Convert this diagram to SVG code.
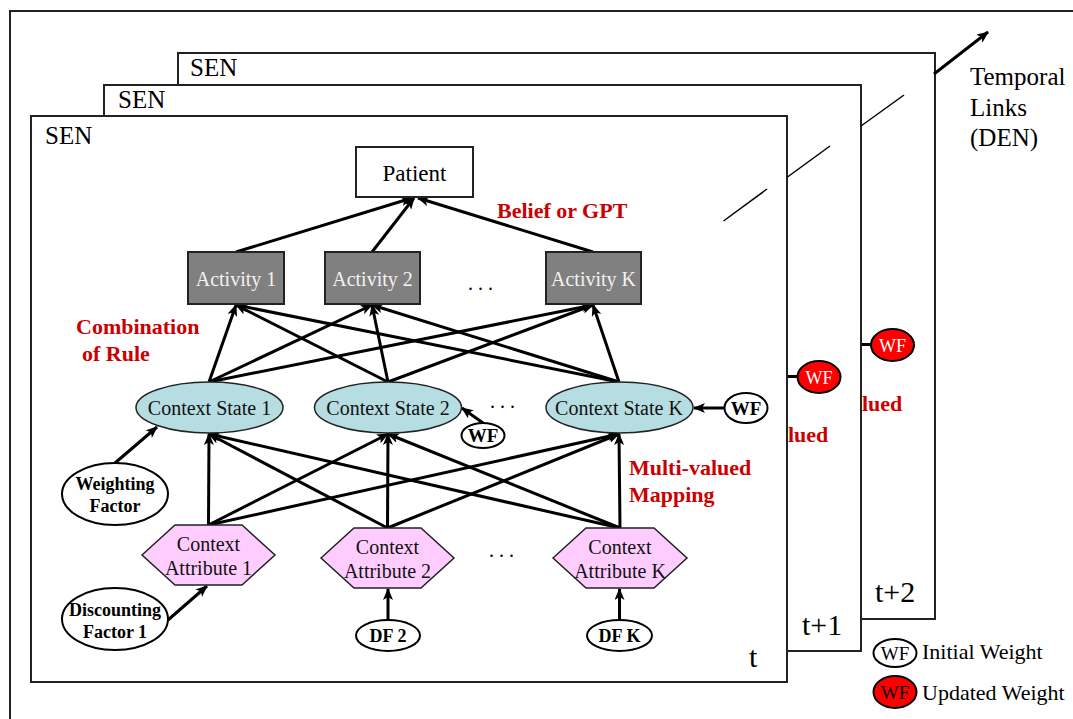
<svg xmlns="http://www.w3.org/2000/svg" width="1073" height="719" viewBox="0 0 1073 719">
<defs>
<marker id="arr" viewBox="0 0 12 10" refX="11" refY="5" markerWidth="12" markerHeight="10" markerUnits="userSpaceOnUse" orient="auto"><path d="M0,0 L12,5 L0,10 L3,5 Z" fill="#000"/></marker>
<style>
.frame{fill:#fff;stroke:#222;stroke-width:2}
text{font-family:"Liberation Serif","Times New Roman",serif;fill:#000}
.big{font-size:25px}
.tl{font-size:30px}
.red{font-size:22px;font-weight:bold;fill:#cc0000}
.edge{stroke:#000;stroke-width:3;fill:none;marker-end:url(#arr)}
.thin{stroke:#000;stroke-width:1.5}
.act rect{fill:#808080;stroke:#222;stroke-width:2}
.act text{fill:#f2f2f2;font-size:20px;text-anchor:middle}
.cs ellipse{fill:#b6dde1;stroke:#222;stroke-width:1.5}
.cs text{font-size:20px;text-anchor:middle;fill:#111}
.attr polygon{fill:#ffccff;stroke:#222;stroke-width:1.5}
.attr text{font-size:20px;text-anchor:middle;fill:#111}
.wn ellipse{fill:#fff;stroke:#000;stroke-width:2}
.wn text{font-size:18px;font-weight:bold;text-anchor:middle}
.wf text{font-size:19px}
.rwf ellipse{fill:#ff0000;stroke:#000;stroke-width:2}
.rwf text{fill:#fff;font-size:18px;text-anchor:middle}
.dots{font-size:20px;fill:#000}
</style>
</defs>
<rect x="10" y="11" width="1100" height="800" fill="none" stroke="#222" stroke-width="2"/>

<g id="frame-t2">
<rect class="frame" x="178" y="53" width="757" height="566"/>
<text class="big" x="190" y="76">SEN</text>
<text class="tl" x="875" y="602">t+2</text>
<line x1="861" y1="344.5" x2="872" y2="344.5" stroke="#000" stroke-width="3"/>
<g class="rwf"><ellipse cx="892.5" cy="345" rx="21.5" ry="16"/><text x="892.5" y="352">WF</text></g>
<text class="red" x="862" y="411">lued</text>
</g>

<g id="frame-t1">
<rect class="frame" x="104" y="85" width="757" height="566"/>
<text class="big" x="118" y="108">SEN</text>
<text class="tl" x="802" y="635">t+1</text>
<line x1="787" y1="376.5" x2="798" y2="376.5" stroke="#000" stroke-width="3"/>
<g class="rwf"><ellipse cx="819" cy="377" rx="21.5" ry="16"/><text x="819" y="384">WF</text></g>
<text class="red" x="788" y="442">lued</text>
</g>

<g id="frame-t">
<rect class="frame" x="31" y="116" width="756" height="566"/>
<text class="big" x="45" y="144">SEN</text>
<text class="tl" x="749" y="667">t</text>
</g>

<g id="temporal-links">
<line class="thin" x1="723.5" y1="221" x2="767" y2="189"/>
<line class="thin" x1="787.5" y1="177" x2="830" y2="146"/>
<line class="thin" x1="861" y1="126" x2="904" y2="95"/>
<line class="edge" x1="934" y1="74" x2="988" y2="32"/>
<text class="big" x="970" y="85">Temporal</text>
<text class="big" x="970" y="116">Links</text>
<text class="big" x="970" y="146">(DEN)</text>
</g>

<g id="connectors">
<line class="edge" x1="236" y1="252" x2="412" y2="198"/>
<line class="edge" x1="372" y1="252" x2="414" y2="198"/>
<line class="edge" x1="593" y1="252" x2="418" y2="198"/>

<line class="edge" x1="209" y1="382" x2="236" y2="305"/>
<line class="edge" x1="209" y1="382" x2="372" y2="305"/>
<line class="edge" x1="209" y1="382" x2="593" y2="305"/>
<line class="edge" x1="388" y1="382" x2="236" y2="305"/>
<line class="edge" x1="388" y1="382" x2="372" y2="305"/>
<line class="edge" x1="388" y1="382" x2="593" y2="305"/>
<line class="edge" x1="619" y1="382" x2="236" y2="305"/>
<line class="edge" x1="619" y1="382" x2="372" y2="305"/>
<line class="edge" x1="619" y1="382" x2="593" y2="305"/>

<line class="edge" x1="208.5" y1="525" x2="209" y2="434"/>
<line class="edge" x1="208.5" y1="525" x2="388" y2="434"/>
<line class="edge" x1="208.5" y1="525" x2="619" y2="434"/>
<line class="edge" x1="387.5" y1="528" x2="209" y2="434"/>
<line class="edge" x1="387.5" y1="528" x2="388" y2="434"/>
<line class="edge" x1="387.5" y1="528" x2="619" y2="434"/>
<line class="edge" x1="620" y1="528" x2="209" y2="434"/>
<line class="edge" x1="620" y1="528" x2="388" y2="434"/>
<line class="edge" x1="620" y1="528" x2="619" y2="434"/>

<line class="edge" x1="115" y1="463" x2="157" y2="427"/>
<line class="edge" x1="483" y1="423" x2="462" y2="408"/>
<line class="edge" x1="725" y1="408" x2="694" y2="408"/>
<line class="edge" x1="168" y1="620" x2="207" y2="586"/>
<line class="edge" x1="388" y1="620" x2="388" y2="589"/>
<line class="edge" x1="619.5" y1="620" x2="619.5" y2="589"/>
</g>

<g id="patient">
<rect x="356" y="147" width="117" height="50" fill="#fff" stroke="#222" stroke-width="2"/>
<text x="414.5" y="181" font-size="23" text-anchor="middle">Patient</text>
</g>
<text class="red" x="497" y="218">Belief or GPT</text>

<g id="activity-1" class="act"><rect x="188" y="252" width="96" height="52"/><text x="236" y="286">Activity 1</text></g>
<g id="activity-2" class="act"><rect x="325" y="252" width="95" height="52"/><text x="372.5" y="286">Activity 2</text></g>
<g id="activity-k" class="act"><rect x="546" y="252" width="95" height="52"/><text x="593.5" y="286">Activity K</text></g>
<text class="dots" x="468" y="290">. . .</text>

<text class="red" x="76" y="334">Combination</text>
<text class="red" x="82" y="361">of Rule</text>

<g id="context-state-1" class="cs"><ellipse cx="209.5" cy="407.5" rx="73.5" ry="25.5"/><text x="209.5" y="415">Context State 1</text></g>
<g id="context-state-2" class="cs"><ellipse cx="388" cy="407.5" rx="73.5" ry="25.5"/><text x="388" y="415">Context State 2</text></g>
<g id="context-state-k" class="cs"><ellipse cx="619.5" cy="407.5" rx="73.5" ry="25.5"/><text x="619" y="415">Context State K</text></g>
<text class="dots" x="490" y="408">. . .</text>

<g id="wf-2" class="wn wf"><ellipse cx="483" cy="435.5" rx="21.5" ry="12.5"/><text x="483" y="442">WF</text></g>
<g id="wf-k" class="wn wf"><ellipse cx="746" cy="408" rx="21.5" ry="15"/><text x="746" y="415">WF</text></g>

<text class="red" x="629" y="475">Multi-valued</text>
<text class="red" x="629" y="502">Mapping</text>

<g id="weighting-factor" class="wn"><ellipse cx="115" cy="494" rx="53" ry="31"/><text x="115" y="490">Weighting</text><text x="115" y="512">Factor</text></g>

<g id="context-attribute-1" class="attr"><polygon points="142,555 175,525 242,525 275,555 242,585 175,585"/><text x="208.5" y="551">Context</text><text x="208.5" y="575">Attribute 1</text></g>
<g id="context-attribute-2" class="attr"><polygon points="321,558 354,528 421,528 454,558 421,588 354,588"/><text x="387.5" y="554">Context</text><text x="387.5" y="578">Attribute 2</text></g>
<g id="context-attribute-k" class="attr"><polygon points="553,558 586,528 654,528 687,558 654,588 586,588"/><text x="620" y="554">Context</text><text x="620" y="578">Attribute K</text></g>
<text class="dots" x="489" y="557">. . .</text>

<g id="discounting-factor-1" class="wn"><ellipse cx="115" cy="619" rx="53" ry="31"/><text x="115" y="616">Discounting</text><text x="115" y="638">Factor 1</text></g>
<g id="df-2" class="wn"><ellipse cx="388" cy="635.5" rx="32" ry="15.5"/><text x="388" y="642">DF 2</text></g>
<g id="df-k" class="wn"><ellipse cx="619.5" cy="635.5" rx="32.5" ry="15.5"/><text x="619.5" y="642">DF K</text></g>

<g id="legend">
<ellipse cx="895" cy="653" rx="21.5" ry="14" fill="#fff" stroke="#000" stroke-width="2"/>
<text x="895" y="660" font-size="19" text-anchor="middle">WF</text>
<text x="922" y="659" font-size="22">Initial Weight</text>
<ellipse cx="895" cy="692" rx="21.5" ry="16" fill="#ff0000" stroke="#000" stroke-width="2"/>
<text x="895" y="699" font-size="19" text-anchor="middle" fill="#fff">WF</text>
<text x="922" y="700" font-size="22">Updated Weight</text>
</g>
</svg>
